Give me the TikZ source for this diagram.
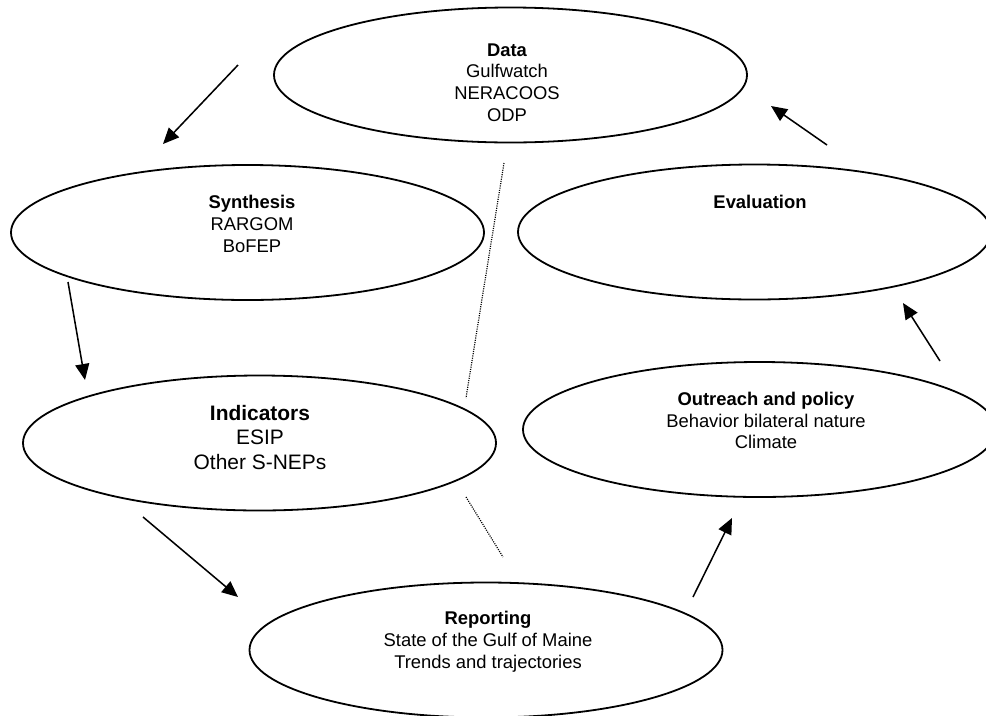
\documentclass[tikz,border=0pt]{standalone}
\usepackage{fontspec}
\setmainfont{Liberation Sans}
\usetikzlibrary{shapes.geometric,arrows.meta}
\begin{document}
\begin{tikzpicture}[x=0.75pt,y=-0.75pt,
  oval/.style={ellipse,draw,line width=1.35pt,minimum width=354.75pt,minimum height=101.25pt,inner sep=0pt},
  lbl/.style={align=center,inner sep=0pt,font=\fontsize{13.8pt}{16.3pt}\selectfont},
  biglbl/.style={align=center,inner sep=0pt,font=\fontsize{15.7pt}{18.4pt}\selectfont},
  flow/.style={line width=1.15pt,-{Triangle[length=12pt,width=10.5pt]}},
  dotline/.style={line width=0.9pt,dash pattern=on 0.8pt off 0.9pt}]
\useasboundingbox (0,0) rectangle (986,715);
\clip (0,0) rectangle (986,715);

% ellipses
\node[oval] (data) at (510.5,75) {};
\node[oval] (synth) at (247.5,232.5) {};
\node[oval] (eval) at (754.5,232) {};
\node[oval] (indic) at (259.5,443) {};
\node[oval] (outr) at (759.5,429.5) {};
\node[oval] (rep) at (486,650) {};

% texts
\node[lbl] (datat) at (507,82.5) {\textbf{Data}\\Gulfwatch\\NERACOOS\\ODP};
\node[lbl] (syntht) at (252,224) {\textbf{Synthesis}\\RARGOM\\BoFEP};
\node[lbl] (evalt) at (760,202) {\textbf{Evaluation}};
\node[biglbl] (indict) at (260,437.5) {\textbf{Indicators}\\ESIP\\Other S-NEPs};
\node[lbl] (outrt) at (766,420.5) {\textbf{Outreach and policy}\\Behavior bilateral nature\\Climate};
\node[lbl] (rept) at (488,641.5) {\textbf{Reporting}\\State of the Gulf of Maine\\Trends and trajectories};

% arrow end points
\coordinate (a1s) at (238,65);  \coordinate (a1e) at (163,144);
\coordinate (a2s) at (68,282);  \coordinate (a2e) at (85,380);
\coordinate (a3s) at (143,517); \coordinate (a3e) at (238,597);
\coordinate (a4s) at (693,597); \coordinate (a4e) at (732,518);
\coordinate (a5s) at (940,361); \coordinate (a5e) at (903,303);
\coordinate (a6s) at (827,145); \coordinate (a6e) at (771,106);

\draw[flow] (a1s) -- (a1e);
\draw[flow] (a2s) -- (a2e);
\draw[flow] (a3s) -- (a3e);
\draw[flow] (a4s) -- (a4e);
\draw[flow] (a5s) -- (a5e);
\draw[flow] (a6s) -- (a6e);

% dotted lines
\coordinate (d1s) at (504,163); \coordinate (d1e) at (466,398);
\coordinate (d2s) at (466,497); \coordinate (d2e) at (503,557);
\draw[dotline] (d1s) -- (d1e);
\draw[dotline] (d2s) -- (d2e);
\end{tikzpicture}
\end{document}
